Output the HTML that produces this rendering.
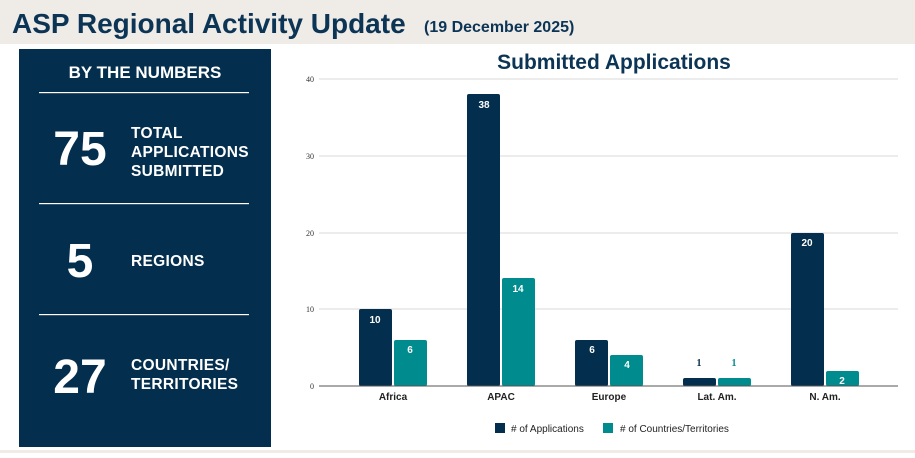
<!DOCTYPE html>
<html><head><meta charset="utf-8"><style>body{margin:0;width:915px;height:453px;overflow:hidden;background:#fff}</style></head>
<body>
<svg width="915" height="453" xmlns="http://www.w3.org/2000/svg" font-family="Liberation Sans, Arial, sans-serif">
<rect x="0" y="0" width="915" height="44" fill="#efebe7"/>
<rect x="0" y="450" width="915" height="3" fill="#efebe7"/>
<text x="12" y="33" font-size="28" font-weight="bold" fill="#0b3455">ASP Regional Activity Update</text>
<text x="424" y="32" font-size="16" font-weight="bold" fill="#0b3455">(19 December 2025)</text>
<rect x="19" y="49" width="252" height="398" fill="#032e4d"/>
<g fill="#fff" font-weight="bold">
<text x="145" y="78" font-size="17" text-anchor="middle">BY THE NUMBERS</text>
<rect x="39" y="92" width="210" height="1.2" fill="#ffffff"/>
<rect x="39" y="203" width="210" height="1.2" fill="#ffffff"/>
<rect x="39" y="314" width="210" height="1.2" fill="#ffffff"/>
<text x="80" y="165" font-size="48" text-anchor="middle">75</text>
<text x="80" y="277" font-size="48" text-anchor="middle">5</text>
<text x="80" y="393" font-size="48" text-anchor="middle">27</text>
<g font-size="15.5" letter-spacing="0.3">
<text x="131" y="138">TOTAL</text><text x="131" y="157">APPLICATIONS</text><text x="131" y="176">SUBMITTED</text>
<text x="131" y="266">REGIONS</text>
<text x="131" y="370">COUNTRIES/</text><text x="131" y="389">TERRITORIES</text>
</g></g>
<text x="614" y="69" font-size="21" font-weight="bold" fill="#0b3455" text-anchor="middle">Submitted Applications</text>
<g stroke="#d9d9d9" stroke-width="1">
<line x1="319" y1="79" x2="898" y2="79"/><line x1="319" y1="156" x2="898" y2="156"/>
<line x1="319" y1="233" x2="898" y2="233"/><line x1="319" y1="309" x2="898" y2="309"/>
</g>
<g font-family="Liberation Serif, serif" font-size="8" fill="#333" text-anchor="end">
<text x="314" y="82">40</text><text x="314" y="159">30</text><text x="314" y="236">20</text><text x="314" y="312">10</text><text x="314" y="389">0</text>
</g>
<g fill="#032e4d">
<rect x="359" y="309" width="33" height="77" rx="2"/>
<rect x="467" y="94" width="33" height="292" rx="2"/>
<rect x="575" y="340" width="33" height="46" rx="2"/>
<rect x="683" y="378" width="33" height="8" rx="2"/>
<rect x="791" y="233" width="33" height="153" rx="2"/>
</g>
<g fill="#008b8f">
<rect x="394" y="340" width="33" height="46" rx="2"/>
<rect x="502" y="278" width="33" height="108" rx="2"/>
<rect x="610" y="355" width="33" height="31" rx="2"/>
<rect x="718" y="378" width="33" height="8" rx="2"/>
<rect x="826" y="371" width="33" height="15" rx="2"/>
</g>
<line x1="319" y1="386" x2="898" y2="386" stroke="#555" stroke-width="1"/>
<g font-size="10" font-weight="bold" fill="#fff" text-anchor="middle">
<text x="375" y="323">10</text><text x="410" y="353">6</text>
<text x="484" y="108">38</text><text x="518" y="292">14</text>
<text x="592" y="353">6</text><text x="627" y="368">4</text>
<text x="807" y="246">20</text><text x="842" y="384">2</text>
</g>
<g font-family="Liberation Serif, serif" font-size="10" font-weight="bold" text-anchor="middle">
<text x="699" y="366" fill="#032e4d">1</text><text x="734" y="366" fill="#008b8f">1</text>
</g>
<g font-size="10" font-weight="bold" fill="#222" text-anchor="middle">
<text x="393" y="400">Africa</text><text x="501" y="400">APAC</text><text x="609" y="400">Europe</text><text x="717" y="400">Lat. Am.</text><text x="825" y="400">N. Am.</text>
</g>
<rect x="495" y="423" width="10" height="10" fill="#032e4d"/>
<text x="511" y="432" font-size="10" fill="#222"># of Applications</text>
<rect x="603" y="423" width="10" height="10" fill="#008b8f"/>
<text x="620" y="432" font-size="10" fill="#222"># of Countries/Territories</text>
</svg>
</body></html>
